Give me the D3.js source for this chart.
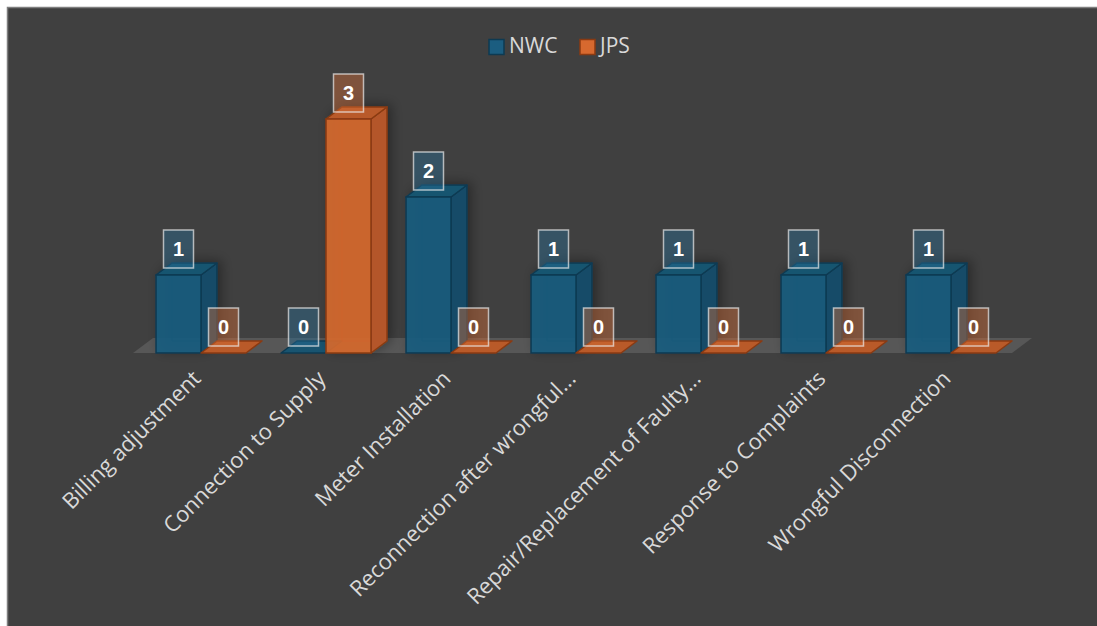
<!DOCTYPE html>
<html>
<head>
<meta charset="utf-8">
<script src="https://cdn.jsdelivr.net/npm/d3@7"></script>
<style>
  html, body { margin: 0; padding: 0; background: #ffffff; }
  svg { display: block; }
</style>
</head>
<body>
<svg id="chart" width="1097" height="626"></svg>
<script>
// Categories of complaints and the count for each utility
const categories = [
  "Billing adjustment",
  "Connection to Supply",
  "Meter Installation",
  "Reconnection after wrongful...",
  "Repair/Replacement of Faulty...",
  "Response to Complaints",
  "Wrongful Disconnection"
];
const seriesNames = ["NWC", "JPS"];
const nwcValues = [1, 0, 2, 1, 1, 1, 1];
const jpsValues = [0, 3, 0, 0, 0, 0, 0];

const seriesData = [nwcValues, jpsValues];

const palette = {
  NWC: { front: "#1b5d80", side: "#164b68", top: "#185470", stroke: "#0d3a52", label: "rgba(40,110,150,0.42)" },
  JPS: { front: "#d7692f", side: "#b4572a", top: "#b95a29", stroke: "#8a3a12", label: "rgba(215,110,55,0.42)" }
};

const uiFont = "Open Sans, Liberation Sans, Arial, sans-serif";

const svg = d3.select("#chart");
const W = 1097, H = 626;

// Chart panel
svg.append("rect")
  .attr("x", 7.5).attr("y", 7.5)
  .attr("width", W).attr("height", H)
  .attr("fill", "#404040")
  .attr("stroke", "#7f7f7f").attr("stroke-width", 1.5);

const defs = svg.append("defs");
const shadow = defs.append("filter").attr("id", "shadow")
  .attr("x", "-50%").attr("y", "-50%").attr("width", "200%").attr("height", "200%");
shadow.append("feGaussianBlur").attr("in", "SourceAlpha").attr("stdDeviation", 6).attr("result", "b");
shadow.append("feOffset").attr("in", "b").attr("dx", 4).attr("dy", -2).attr("result", "o");
shadow.append("feComponentTransfer").attr("in", "o").attr("result", "s")
  .append("feFuncA").attr("type", "linear").attr("slope", 0.35);
const merge = shadow.append("feMerge");
merge.append("feMergeNode").attr("in", "s");
merge.append("feMergeNode").attr("in", "SourceGraphic");

// Scales
const x = d3.scaleBand().domain(categories).range([133, 1008]);
const xs = d3.scaleBand().domain(seriesNames).range([0, 90]);
const y = d3.scaleLinear().domain([0, 3]).range([353, 119]);
const offsetLeft = 23;        // gap before the first bar in each band
const depthX = 16, depthY = -12;   // oblique depth of a column

// Floor
const floorDX = 20, floorDY = -15;
const fx0 = x.range()[0], fx1 = x.range()[1] + 4, fy = y(0);
svg.append("polygon")
  .attr("points", [[fx0, fy], [fx1, fy], [fx1 + floorDX, fy + floorDY], [fx0 + floorDX, fy + floorDY]].join(" "))
  .attr("fill", "#575757");

const barsG = svg.append("g");

categories.forEach((cat, ci) => {
  seriesNames.forEach((s, si) => {
    const v = seriesData[si][ci];
    const c = palette[s];
    const x0 = x(cat) + offsetLeft + xs(s);
    const x1 = x0 + xs.bandwidth();
    const yb = y(0), yt = y(v);
    const g = barsG.append("g").attr("filter", v > 0 ? "url(#shadow)" : null);
    if (v > 0) {
      // hidden back edges seen through the translucent column
      g.append("path")
        .attr("d", `M${x0 + depthX},${yb + depthY}V${yt + depthY}M${x0 + depthX},${yb + depthY}H${x1 + depthX}`)
        .attr("stroke", c.stroke).attr("stroke-opacity", 0.6).attr("fill", "none");
      // side face
      g.append("polygon")
        .attr("points", [[x1, yb], [x1 + depthX, yb + depthY], [x1 + depthX, yt + depthY], [x1, yt]].join(" "))
        .attr("fill", c.side).attr("stroke", c.stroke).attr("stroke-width", 1.5).attr("stroke-linejoin", "round");
    }
    // top face
    g.append("polygon")
      .attr("points", [[x0, yt], [x1, yt], [x1 + depthX, yt + depthY], [x0 + depthX, yt + depthY]].join(" "))
      .attr("fill", c.top).attr("stroke", c.stroke).attr("stroke-width", 1.5).attr("stroke-linejoin", "round");
    if (v > 0) {
      // front face
      g.append("rect")
        .attr("x", x0).attr("y", yt)
        .attr("width", x1 - x0).attr("height", yb - yt)
        .attr("fill", c.front).attr("fill-opacity", 0.9)
        .attr("stroke", c.stroke).attr("stroke-width", 1.5);
    }
  });
});

// Data labels
const labelsG = svg.append("g");
categories.forEach((cat, ci) => {
  seriesNames.forEach((s, si) => {
    const v = seriesData[si][ci];
    const cx = x(cat) + offsetLeft + xs(s) + xs.bandwidth() / 2;
    const bw = 30, bh = 38;
    const by = y(v) - 7 - bh;
    labelsG.append("rect")
      .attr("x", cx - bw / 2).attr("y", by)
      .attr("width", bw).attr("height", bh)
      .attr("fill", palette[s].label)
      .attr("stroke", "rgba(235,235,235,0.7)").attr("stroke-width", 1.5);
    labelsG.append("text")
      .attr("x", cx).attr("y", by + bh / 2 + 7)
      .attr("text-anchor", "middle")
      .attr("font-family", "Liberation Sans, Arial, sans-serif")
      .attr("font-weight", "bold").attr("font-size", 20)
      .attr("fill", "#ffffff")
      .text(v);
  });
});

// Category axis labels (rotated)
const axisG = svg.append("g");
categories.forEach(cat => {
  const cx = x(cat) + offsetLeft + xs.bandwidth() + 1;
  const cy = 380;
  axisG.append("text")
    .attr("transform", `translate(${cx},${cy}) rotate(-45)`)
    .attr("text-anchor", "end")
    .attr("font-family", uiFont)
    .attr("font-size", 22)
    .attr("fill", "#d9d9d9")
    .text(cat);
});

// Legend
const legend = svg.append("g");
const legendX = [489, 580];
seriesNames.forEach((s, i) => {
  legend.append("rect")
    .attr("x", legendX[i]).attr("y", 39.5)
    .attr("width", 15).attr("height", 15)
    .attr("fill", palette[s].front)
    .attr("stroke", palette[s].stroke).attr("stroke-width", 1.5);
  legend.append("text")
    .attr("x", legendX[i] + 20).attr("y", 53)
    .attr("font-family", uiFont)
    .attr("font-size", 21)
    .attr("fill", "#d9d9d9")
    .text(s);
});
</script>
</body>
</html>
